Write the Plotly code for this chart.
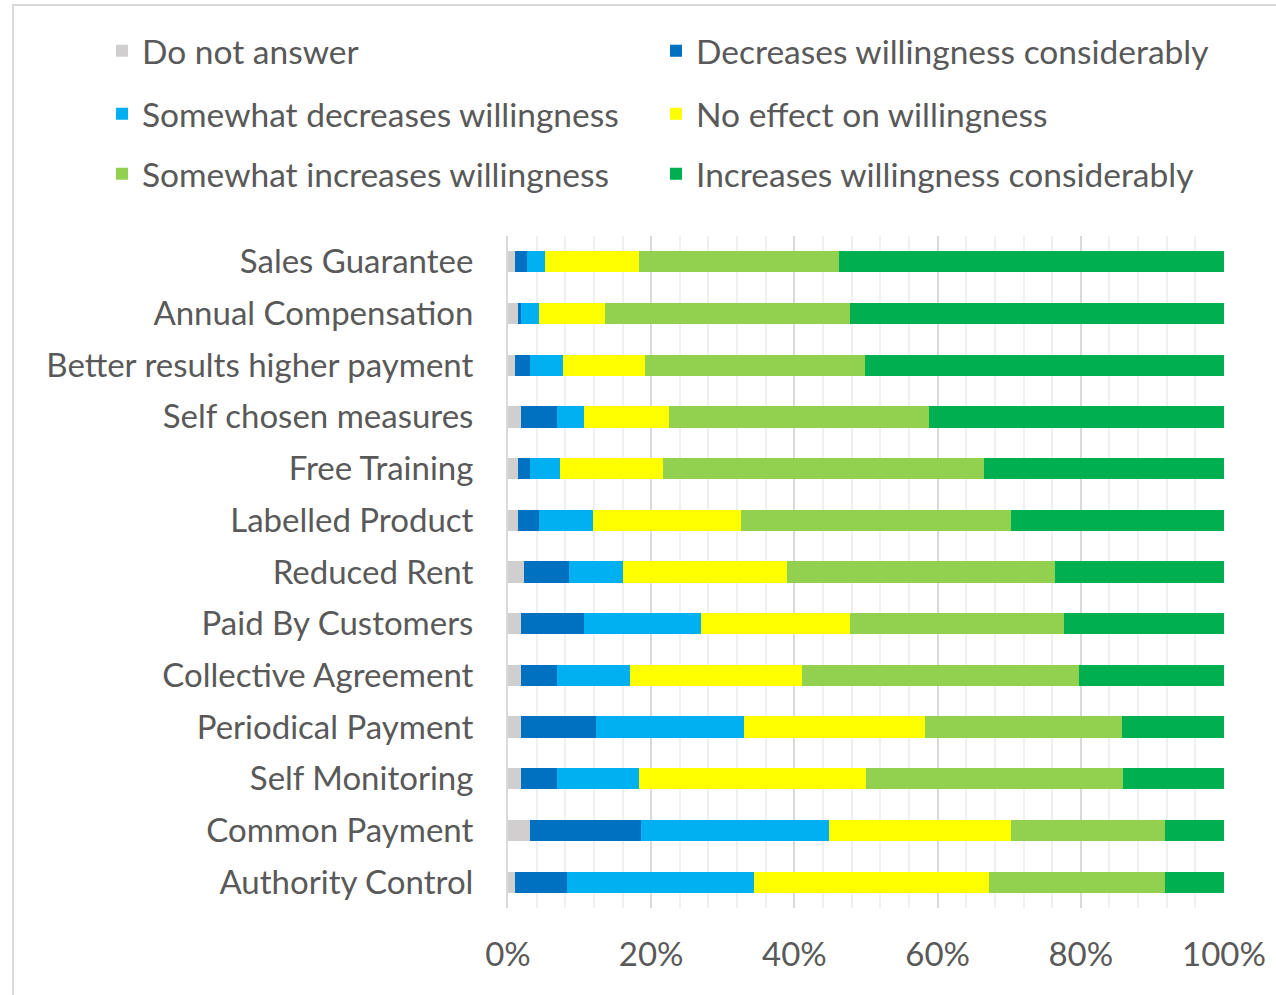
import plotly.graph_objects as go

categories = ["Sales Guarantee", "Annual Compensation", "Better results higher payment",
              "Self chosen measures", "Free Training", "Labelled Product", "Reduced Rent",
              "Paid By Customers", "Collective Agreement", "Periodical Payment",
              "Self Monitoring", "Common Payment", "Authority Control"]

series_names = ["Do not answer", "Decreases willingness considerably",
                "Somewhat decreases willingness", "No effect on willingness",
                "Somewhat increases willingness", "Increases willingness considerably"]

do_not_answer = [1.0, 1.4, 1.0, 1.8, 1.4, 1.4, 2.2, 1.8, 1.8, 1.8, 1.8, 3.1, 1.0]
decreases_considerably = [1.7, 0.4, 2.1, 5.1, 1.7, 2.9, 6.3, 8.8, 5.1, 10.5, 5.1, 15.5, 7.2]
somewhat_decreases = [2.5, 2.5, 4.6, 3.7, 4.2, 7.6, 7.6, 16.4, 10.1, 20.7, 11.4, 26.2, 26.1]
no_effect = [13.1, 9.3, 11.4, 11.9, 14.4, 20.7, 22.8, 20.7, 24.0, 25.3, 31.7, 25.4, 32.9]
somewhat_increases = [27.9, 34.2, 30.8, 36.3, 44.8, 37.6, 37.5, 30.0, 38.8, 27.5, 35.9, 21.5, 24.5]
increases_considerably = [53.8, 52.2, 50.1, 41.2, 33.5, 29.8, 23.6, 22.3, 20.2, 14.2, 14.1, 8.3, 8.3]

x_ticks = [0, 20, 40, 60, 80, 100]

series_values = [do_not_answer, decreases_considerably, somewhat_decreases,
                 no_effect, somewhat_increases, increases_considerably]
colors = ["#D0CECE", "#0070C0", "#00B0F0", "#FFFF00", "#92D050", "#00B050"]
legends = ["legend", "legend", "legend2", "legend2", "legend3", "legend3"]

FONT = "Lato"
TXT = "#595959"
W, H = 1276, 995
L, R, T, B = 508, 52, 236, 87
pw = W - L - R
ph = H - T - B
y_bottom_pix = H - B

fig = go.Figure()
for name, vals, col, lg in zip(series_names, series_values, colors, legends):
    fig.add_trace(go.Bar(
        y=categories, x=vals, name=name, orientation="h",
        marker=dict(color=col, line=dict(width=0)),
        legend=lg,
    ))

def legend_cfg(ypix):
    return dict(
        orientation="h", xref="paper", yref="paper",
        x=(102 - L) / pw, y=(y_bottom_pix - ypix) / ph, xanchor="left", yanchor="middle",
        entrywidth=509, entrywidthmode="pixels",
        font=dict(family=FONT, size=33.5, color=TXT),
        bgcolor="rgba(0,0,0,0)", traceorder="normal",
    )

fig.update_layout(
    width=W, height=H,
    barmode="stack", bargap=0.59,
    margin=dict(l=L, r=R, t=T, b=B, pad=0, autoexpand=False),
    paper_bgcolor="white", plot_bgcolor="white",
    font=dict(family=FONT, color=TXT),
    showlegend=True,
    legend=legend_cfg(51),
    legend2=legend_cfg(114),
    legend3=legend_cfg(174),
    xaxis=dict(
        range=[0, 100], tickvals=x_ticks, ticktext=[f"{v}%" for v in x_ticks],
        showgrid=True, gridcolor="#D9D9D9", gridwidth=2,
        minor=dict(dtick=4, showgrid=True, gridcolor="#F0F0F0", gridwidth=2),
        zeroline=False, showline=False, ticks="",
        tickfont=dict(family=FONT, size=33, color=TXT),
        ticklabelstandoff=24,
    ),
    yaxis=dict(
        categoryorder="array", categoryarray=categories, autorange="reversed",
        showline=True, linecolor="#D9D9D9", linewidth=2,
        showgrid=False, ticks="",
        tickfont=dict(family=FONT, size=33, color=TXT),
        ticklabelstandoff=26,
    ),
)

# outer chart-area border
fig.add_shape(type="rect", xref="paper", yref="paper",
              x0=(13 - L) / pw, x1=(W + 20 - L) / pw,
              y0=(y_bottom_pix - (H + 20)) / ph, y1=(y_bottom_pix - 5) / ph,
              line=dict(color="#D9D9D9", width=2), fillcolor="rgba(0,0,0,0)", layer="below")

fig.write_html("out.html", config={"displayModeBar": False},
               post_script="document.body.style.margin='0';document.body.style.overflow='hidden';")
